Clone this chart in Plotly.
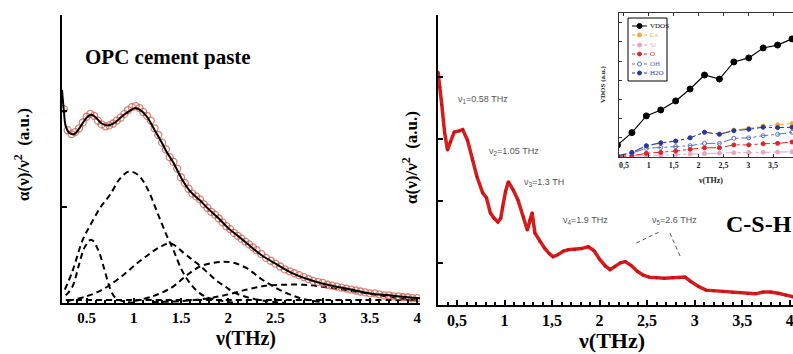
import plotly.graph_objects as go

W, H = 793, 354
def px(x): return x / W
def py(y): return 1 - y / H

SERIF = "Liberation Serif"
SANS = "Liberation Sans"

# ---------------- Left panel: OPC cement paste ----------------
fit_x = [0.24, 0.26, 0.28, 0.32, 0.37, 0.43, 0.50, 0.55, 0.60, 0.66, 0.72, 0.80, 0.87, 0.94, 1.01,
         1.07, 1.14, 1.21, 1.28, 1.35, 1.42, 1.51, 1.60, 1.70, 1.80, 1.90, 2.00, 2.10, 2.20, 2.35,
         2.50, 2.70, 2.90, 3.10, 3.30, 3.50, 3.70, 3.90, 4.03]
fit_y = [2.22, 2.00, 1.84, 1.77, 1.76, 1.83, 1.93, 1.96, 1.93, 1.87, 1.85, 1.88, 1.94, 1.99, 2.03,
         2.01, 1.94, 1.82, 1.70, 1.57, 1.46, 1.29, 1.16, 1.07, 0.97, 0.88, 0.78, 0.70, 0.62, 0.50,
         0.41, 0.30, 0.23, 0.18, 0.14, 0.10, 0.08, 0.06, 0.05]

exp_x = [0.26, 0.30, 0.34, 0.38, 0.42, 0.46, 0.50, 0.54, 0.58, 0.62, 0.66, 0.70, 0.74, 0.78, 0.82,
         0.86, 0.90, 0.94, 0.98, 1.02, 1.06, 1.10, 1.14, 1.18, 1.22, 1.26, 1.30, 1.34, 1.38, 1.42,
         1.46, 1.50, 1.54, 1.58, 1.62, 1.66, 1.70, 1.74, 1.78, 1.82, 1.86, 1.90, 1.94, 1.98, 2.02,
         2.06, 2.10, 2.14, 2.18, 2.22, 2.26, 2.30, 2.35, 2.40, 2.45, 2.50, 2.55, 2.60, 2.65, 2.70,
         2.75, 2.80, 2.85, 2.90, 2.95, 3.00, 3.05, 3.10, 3.15, 3.20, 3.25, 3.30, 3.35, 3.40, 3.45,
         3.50, 3.55, 3.60, 3.65, 3.70, 3.75, 3.80, 3.85, 3.90, 3.95, 4.00]
exp_y = [2.02, 1.80, 1.76, 1.78, 1.82, 1.88, 1.94, 1.97, 1.95, 1.90, 1.86, 1.84, 1.85, 1.87, 1.90,
         1.93, 1.97, 2.01, 2.04, 2.05, 2.03, 1.99, 1.95, 1.90, 1.82, 1.75, 1.67, 1.60, 1.52, 1.47,
         1.40, 1.31, 1.25, 1.19, 1.14, 1.11, 1.08, 1.03, 0.99, 0.95, 0.92, 0.88, 0.84, 0.80, 0.77,
         0.73, 0.70, 0.67, 0.64, 0.61, 0.58, 0.55, 0.51, 0.47, 0.44, 0.41, 0.38, 0.35, 0.33, 0.31,
         0.29, 0.27, 0.25, 0.23, 0.22, 0.21, 0.19, 0.18, 0.17, 0.16, 0.15, 0.14, 0.13, 0.12, 0.11,
         0.10, 0.10, 0.09, 0.08, 0.08, 0.07, 0.07, 0.06, 0.06, 0.05, 0.05]

g1_x = [0.28, 0.35, 0.42, 0.48, 0.55, 0.62, 0.68, 0.75, 0.80, 0.88, 1.00]
g1_y = [0.08, 0.17, 0.40, 0.58, 0.66, 0.56, 0.38, 0.15, 0.06, 0.02, 0.00]
g2_x = [0.27, 0.35, 0.46, 0.55, 0.65, 0.75, 0.85, 0.95, 1.05, 1.15, 1.25, 1.35, 1.42, 1.51, 1.60,
        1.70, 1.80, 1.95, 2.10]
g2_y = [0.14, 0.33, 0.66, 0.83, 1.00, 1.13, 1.29, 1.37, 1.33, 1.18, 0.94, 0.70, 0.55, 0.34, 0.20,
        0.10, 0.05, 0.02, 0.00]
g3_x = [0.30, 0.50, 0.65, 0.75, 0.90, 1.03, 1.15, 1.27, 1.39, 1.53, 1.62, 1.71, 1.80, 1.88, 1.97,
        2.06, 2.20, 2.40, 2.60]
g3_y = [0.02, 0.07, 0.13, 0.19, 0.30, 0.41, 0.50, 0.58, 0.62, 0.52, 0.45, 0.38, 0.30, 0.23, 0.17,
        0.11, 0.06, 0.02, 0.00]
g4_x = [1.00, 1.20, 1.40, 1.55, 1.70, 1.85, 1.95, 2.05, 2.20, 2.35, 2.50, 2.65, 2.80, 3.00]
g4_y = [0.02, 0.07, 0.16, 0.28, 0.38, 0.42, 0.43, 0.42, 0.36, 0.25, 0.16, 0.09, 0.04, 0.01]
g5_x = [1.20, 1.50, 1.80, 2.00, 2.20, 2.40, 2.60, 2.80, 3.00, 3.20, 3.40, 3.60, 3.80, 4.00]
g5_y = [0.01, 0.02, 0.05, 0.09, 0.14, 0.18, 0.19, 0.19, 0.17, 0.14, 0.11, 0.08, 0.05, 0.03]
g0_x = [0.28, 1.00, 2.00, 3.00, 4.00]
g0_y = [0.03, 0.03, 0.03, 0.03, 0.03]

left_ticks = [0.5, 1, 1.5, 2, 2.5, 3, 3.5, 4]
left_ticktext = ["0.5", "1", "1.5", "2", "2.5", "3", "3.5", "4"]

# ---------------- Right panel: C-S-H ----------------
csh_x = [0.30, 0.32, 0.34, 0.37, 0.40, 0.43, 0.47, 0.52, 0.56, 0.61, 0.66, 0.71, 0.77, 0.81, 0.85,
         0.89, 0.93, 0.96, 0.98, 1.01, 1.04, 1.09, 1.14, 1.20, 1.24, 1.27, 1.29, 1.32, 1.37, 1.42,
         1.47, 1.51, 1.56, 1.62, 1.67, 1.74, 1.81, 1.88, 1.94, 2.00, 2.06, 2.11, 2.16, 2.22, 2.27,
         2.33, 2.40, 2.46, 2.52, 2.60, 2.68, 2.77, 2.84, 2.90, 2.96, 3.04, 3.12, 3.20, 3.30, 3.40,
         3.48, 3.56, 3.64, 3.72, 3.80, 3.88, 3.96, 4.04]
csh_y = [4.08, 3.84, 3.55, 3.10, 2.82, 2.95, 3.11, 3.13, 3.15, 2.98, 2.66, 2.39, 2.13, 2.05, 1.81,
         1.72, 1.66, 1.72, 1.90, 2.15, 2.31, 2.18, 2.02, 1.74, 1.53, 1.70, 1.81, 1.48, 1.35, 1.24,
         1.15, 1.10, 1.13, 1.19, 1.21, 1.22, 1.23, 1.26, 1.20, 1.06, 0.95, 0.89, 0.94, 1.00, 1.02,
         0.96, 0.86, 0.80, 0.77, 0.76, 0.75, 0.76, 0.76, 0.77, 0.70, 0.62, 0.56, 0.55, 0.54, 0.52,
         0.52, 0.50, 0.50, 0.53, 0.53, 0.51, 0.48, 0.45]

right_ticks = [0.5, 1, 1.5, 2, 2.5, 3, 3.5, 4]
right_ticktext = ["0,5", "1", "1,5", "2", "2,5", "3", "3,5", "4"]

peak_labels = ["ν<sub>1</sub>=0.58 THz", "ν<sub>2</sub>=1.05 THz", "ν<sub>3</sub>=1.3 TH",
               "ν<sub>4</sub>=1.9 THz", "ν<sub>5</sub>=2.6 THz"]
peak_lx = [0.77, 1.10, 1.41, 1.85, 2.79]
peak_ly = [3.63, 2.79, 2.29, 1.69, 1.69]

# ---------------- Inset: VDOS ----------------
vd_x = [0.37, 0.66, 0.95, 1.24, 1.54, 1.83, 2.12, 2.42, 2.71, 3.01, 3.30, 3.59, 3.88]
vdos = [0.62, 1.27, 2.14, 2.45, 2.92, 3.54, 4.27, 4.06, 4.95, 5.16, 5.68, 5.83, 6.15]
ca   = [0.05, 0.22, 0.56, 0.72, 0.82, 1.00, 1.30, 1.20, 1.40, 1.50, 1.62, 1.68, 1.74]
si   = [0.02, 0.05, 0.08, 0.10, 0.12, 0.15, 0.18, 0.20, 0.22, 0.23, 0.25, 0.26, 0.27]
o    = [0.03, 0.07, 0.19, 0.24, 0.31, 0.40, 0.48, 0.48, 0.63, 0.63, 0.69, 0.71, 0.78]
oh   = [0.05, 0.20, 0.45, 0.50, 0.54, 0.59, 0.71, 0.71, 0.97, 1.00, 1.11, 1.18, 1.29]
h2o  = [0.06, 0.24, 0.59, 0.74, 0.83, 1.00, 1.29, 1.18, 1.37, 1.44, 1.55, 1.53, 1.55]
inset_ticks = [0.5, 1, 1.5, 2, 2.5, 3, 3.5]
inset_ticktext = ["0,5", "1", "1,5", "2", "2,5", "3", "3,5"]
legend_names = ["VDOS", "Ca", "Si", "O", "OH", "H2O"]

def bold(lst):
    return ["<b>%s</b>" % t for t in lst]

fig = go.Figure()

# left panel traces
for gx, gy in [(g0_x, g0_y), (g1_x, g1_y), (g2_x, g2_y), (g3_x, g3_y), (g4_x, g4_y), (g5_x, g5_y)]:
    fig.add_trace(go.Scatter(x=gx, y=gy, mode="lines", line=dict(color="black", width=2, dash="6px,4px", shape="spline"),
                             xaxis="x", yaxis="y", showlegend=False, hoverinfo="skip"))
fig.add_trace(go.Scatter(x=exp_x, y=exp_y, mode="markers",
                         marker=dict(symbol="circle-open", size=7, color="rgba(205,90,70,0.75)", line=dict(width=1.3)),
                         xaxis="x", yaxis="y", showlegend=False))
fig.add_trace(go.Scatter(x=fit_x, y=fit_y, mode="lines", line=dict(color="black", width=2, shape="spline"),
                         xaxis="x", yaxis="y", showlegend=False))

# right panel trace
fig.add_trace(go.Scatter(x=csh_x, y=csh_y, mode="lines+markers", line=dict(color="#d61c1c", width=3.5),
                         marker=dict(symbol="circle", size=3, color="#c81010"),
                         xaxis="x2", yaxis="y2", showlegend=False))

# inset traces
inset_series = [
    (vdos, "black", "solid", "circle", 6),
    (ca, "#f2a93b", "dashdot", "circle", 4),
    (si, "#e9a3c4", "dashdot", "circle", 4),
    (o, "#e02424", "dashdot", "circle", 4),
    (oh, "#5a6fc4", "dashdot", "circle-open", 4),
    (h2o, "#1f3aa5", "dashdot", "circle", 4),
]
for i, (ys, col, dash, sym, sz) in enumerate(inset_series):
    fig.add_trace(go.Scatter(x=vd_x, y=ys, mode="lines+markers", name=legend_names[i],
                             line=dict(color=col, width=1 if i else 1.2, dash=dash),
                             marker=dict(symbol=sym, size=sz, color=col, line=dict(color=col, width=1)),
                             xaxis="x3", yaxis="y3", showlegend=False))

tickfont_l = dict(family=SERIF, size=15, color="black")
tickfont_r = dict(family=SERIF, size=16, color="black")

fig.update_layout(
    width=W, height=H, margin=dict(l=0, r=0, t=0, b=0),
    paper_bgcolor="white", plot_bgcolor="white", showlegend=False,
    xaxis=dict(domain=[px(62), px(420)], range=[0.24, 4.03], anchor="y",
               showline=True, linecolor="black", linewidth=2, showgrid=False, zeroline=False,
               ticks="inside", ticklen=5, tickwidth=1.5, tickcolor="black",
               tickvals=left_ticks, ticktext=bold(left_ticktext), tickfont=tickfont_l,
               ticklabeloverflow="allow",
               minor=dict(ticks="inside", ticklen=3, dtick=0.1, tickcolor="black", showgrid=False)),
    yaxis=dict(domain=[py(303), py(15)], range=[0, 3], anchor="x",
               showline=True, linecolor="black", linewidth=2, showgrid=False, zeroline=False,
               ticks="inside", ticklen=5, tickwidth=1.5, tickcolor="black", dtick=1, showticklabels=False),
    xaxis2=dict(domain=[px(438), 1.0], range=[0.30, 4.035], anchor="y2",
                showline=True, linecolor="black", linewidth=2, showgrid=False, zeroline=False,
                ticks="inside", ticklen=5, tickwidth=1.5, tickcolor="black",
                tickvals=right_ticks, ticktext=bold(right_ticktext), tickfont=tickfont_r,
                ticklabeloverflow="allow",
                minor=dict(ticks="inside", ticklen=3, dtick=0.1, tickcolor="black", showgrid=False)),
    yaxis2=dict(domain=[py(305), py(15)], range=[0.32, 5.0], anchor="x2",
                showline=True, linecolor="black", linewidth=2, showgrid=False, zeroline=False,
                ticks="inside", ticklen=5, tickwidth=1.5, tickcolor="black", dtick=1, showticklabels=False),
    xaxis3=dict(domain=[px(619), 1.0], range=[0.40, 3.90], anchor="y3",
                showline=True, mirror="ticks", linecolor="#333", linewidth=1, showgrid=False, zeroline=False,
                ticks="inside", ticklen=3, tickwidth=1, tickcolor="#333",
                tickvals=inset_ticks, ticktext=bold(inset_ticktext),
                tickfont=dict(family=SERIF, size=8, color="#222")),
    yaxis3=dict(domain=[py(157), py(13)], range=[0, 7.5], anchor="x3",
                showline=True, linecolor="#333", linewidth=1, showgrid=False, zeroline=False,
                ticks="inside", ticklen=3, tickwidth=1, tickcolor="#333", dtick=1, showticklabels=False),
)

ann = []
ylab = "<b>α(ν)/ν<sup>2</sup>  (a.u.)</b>"
ann.append(dict(text=ylab, x=px(22), y=py(155), xref="paper", yref="paper", textangle=-90, showarrow=False,
                font=dict(family=SERIF, size=17, color="black"), xanchor="center", yanchor="middle"))
ann.append(dict(text=ylab, x=px(410), y=py(158), xref="paper", yref="paper", textangle=-90, showarrow=False,
                font=dict(family=SERIF, size=17, color="black"), xanchor="center", yanchor="middle"))
ann.append(dict(text="<b>OPC cement paste</b>", x=px(168), y=py(57), xref="paper", yref="paper", showarrow=False,
                font=dict(family=SERIF, size=21, color="black"), xanchor="center", yanchor="middle"))
ann.append(dict(text="<b>ν(THz)</b>", x=px(245), y=py(338), xref="paper", yref="paper", showarrow=False,
                font=dict(family=SERIF, size=20, color="black"), xanchor="center", yanchor="middle"))
ann.append(dict(text="<b>ν(THz)</b>", x=px(611), y=py(340), xref="paper", yref="paper", showarrow=False,
                font=dict(family=SERIF, size=22, color="black"), xanchor="center", yanchor="middle"))
ann.append(dict(text="<b>C-S-H</b>", x=px(794), y=py(224), xref="paper", yref="paper", showarrow=False,
                font=dict(family=SERIF, size=24, color="black"), xanchor="right", yanchor="middle"))
for t, lx, ly in zip(peak_labels, peak_lx, peak_ly):
    ann.append(dict(text=t, x=lx, y=ly, xref="x2", yref="y2", showarrow=False,
                    font=dict(family=SANS, size=9, color="#555"), xanchor="center", yanchor="middle"))
# inset texts
ann.append(dict(text="<b>ν(THz)</b>", x=px(710), y=py(180), xref="paper", yref="paper", showarrow=False,
                font=dict(family=SERIF, size=8, color="#222"), xanchor="center", yanchor="middle"))
ann.append(dict(text="<b>VDOS (a.u.)</b>", x=px(603), y=py(85), xref="paper", yref="paper", showarrow=False, textangle=-90,
                font=dict(family=SERIF, size=7, color="#222"), xanchor="center", yanchor="middle"))

shapes = []
# ν5 indicator dashed lines
shapes.append(dict(type="line", xref="x2", yref="y2", x0=2.385, y0=1.32, x1=2.63, y1=1.50,
                   line=dict(color="#555", width=1, dash="4px,3px")))
shapes.append(dict(type="line", xref="x2", yref="y2", x0=2.74, y0=1.48, x1=2.85, y1=1.10,
                   line=dict(color="#555", width=1, dash="4px,3px")))
# inset legend box
shapes.append(dict(type="rect", xref="paper", yref="paper", x0=px(628), x1=px(667), y0=py(81), y1=py(18),
                   line=dict(color="black", width=1), fillcolor="white"))
leg_y = [26, 35, 45, 54, 64, 73]
for i, (ys, col, dash, sym, sz) in enumerate(inset_series):
    yy = py(leg_y[i])
    shapes.append(dict(type="line", xref="paper", yref="paper", x0=px(632), x1=px(647), y0=yy, y1=yy,
                       line=dict(color=col, width=1, dash="dot" if i else "solid")))
    r = 2.0 if i else 2.5
    shapes.append(dict(type="circle", xref="paper", yref="paper", x0=px(639.5 - r), x1=px(639.5 + r),
                       y0=py(leg_y[i] + r), y1=py(leg_y[i] - r),
                       line=dict(color=col, width=1), fillcolor="white" if sym == "circle-open" else col))
    ann.append(dict(text=legend_names[i], x=px(648), y=yy, xref="paper", yref="paper", showarrow=False,
                    font=dict(family=SERIF, size=7, color=col if i else "black"), xanchor="left", yanchor="middle"))

fig.update_layout(annotations=ann, shapes=shapes)
fig.write_html("out.html")
